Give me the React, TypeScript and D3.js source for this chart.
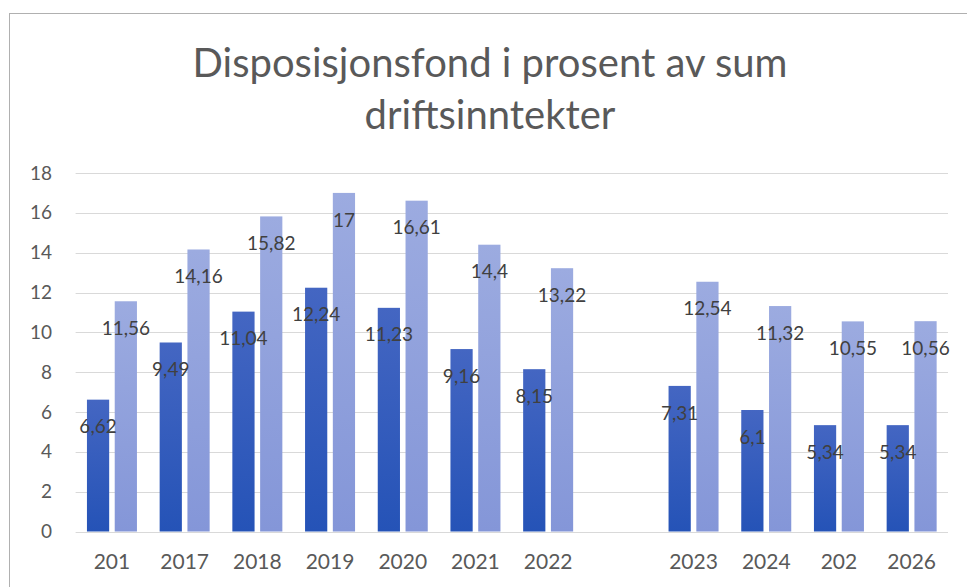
import React from "react";
import * as d3 from "d3";

const categories = ["201", "2017", "2018", "2019", "2020", "2021", "2022", "2023", "2024", "202", "2026"];
const seriesDark = [6.62, 9.49, 11.04, 12.24, 11.23, 9.16, 8.15, 7.31, 6.1, 5.34, 5.34];
const seriesLight = [11.56, 14.16, 15.82, 17, 16.61, 14.4, 13.22, 12.54, 11.32, 10.55, 10.56];
const yTicks = [0, 2, 4, 6, 8, 10, 12, 14, 16, 18];
const titleLines = ["Disposisjonsfond i prosent av sum", "driftsinntekter"];

const W = 967;
const H = 587;
const FONT = "Lato, 'Open Sans', sans-serif";

export default function App() {
  const domain = [...categories.slice(0, 7), "__gap__", ...categories.slice(7)];
  const x = d3.scaleBand<string>().domain(domain).range([75.6, 948]).padding(0);
  const x1 = d3.scaleBand<string>().domain(["dark", "light"]).range([0, 50]).paddingInner(0.2);
  const y = d3.scaleLinear().domain([0, 18]).range([531.5, 173]);
  const fmt = (v: number) => String(v).replace(".", ",");

  const groupStart = (c: string) => (x(c) as number) + x.bandwidth() / 2 - 25;

  return (
    <svg width={W} height={H} style={{ position: "absolute", left: 0, top: 0, background: "#fff" }}>
      <defs>
        <linearGradient id="gDark" x1="0" y1="0" x2="0" y2="1">
          <stop offset="0" stopColor="#4466c2" />
          <stop offset="1" stopColor="#2553b7" />
        </linearGradient>
        <linearGradient id="gLight" x1="0" y1="0" x2="0" y2="1">
          <stop offset="0" stopColor="#9cabe0" />
          <stop offset="1" stopColor="#8496d8" />
        </linearGradient>
      </defs>
      <rect x={9.5} y={13.5} width={W} height={H} fill="#fff" stroke="#b0b0b0" strokeWidth={1} />
      {titleLines.map((t, i) => (
        <text key={i} x={490} y={63 + i * 52} dy="0.35em" textAnchor="middle" fontFamily={FONT} fontSize={40} fill="#595959">
          {t}
        </text>
      ))}
      {yTicks.map((t) => (
        <g key={t}>
          <line x1={75.6} x2={948} y1={Math.round(y(t)) + 0.5} y2={Math.round(y(t)) + 0.5} stroke="#d9d9d9" strokeWidth={1} />
          <text x={52} y={y(t)} dy="0.35em" textAnchor="end" fontFamily={FONT} fontSize={19} fill="#595959">
            {t}
          </text>
        </g>
      ))}
      {categories.map((c, i) => {
        const g = groupStart(c);
        const xd = g + (x1("dark") as number);
        const xl = g + (x1("light") as number);
        const bw = x1.bandwidth();
        return (
          <g key={c + i}>
            <rect x={xd} y={y(seriesDark[i])} width={bw} height={y(0) - y(seriesDark[i])} fill="url(#gDark)" />
            <rect x={xl} y={y(seriesLight[i])} width={bw} height={y(0) - y(seriesLight[i])} fill="url(#gLight)" />
            <text x={xd + bw / 2} y={y(seriesDark[i]) + 27} dy="0.35em" textAnchor="middle" fontFamily={FONT} fontSize={19} fill="#404040">
              {fmt(seriesDark[i])}
            </text>
            <text x={xl + bw / 2} y={y(seriesLight[i]) + 27} dy="0.35em" textAnchor="middle" fontFamily={FONT} fontSize={19} fill="#404040">
              {fmt(seriesLight[i])}
            </text>
            <text x={(x(c) as number) + x.bandwidth() / 2} y={562} dy="0.35em" textAnchor="middle" fontFamily={FONT} fontSize={21} fill="#595959">
              {c}
            </text>
          </g>
        );
      })}
    </svg>
  );
}
